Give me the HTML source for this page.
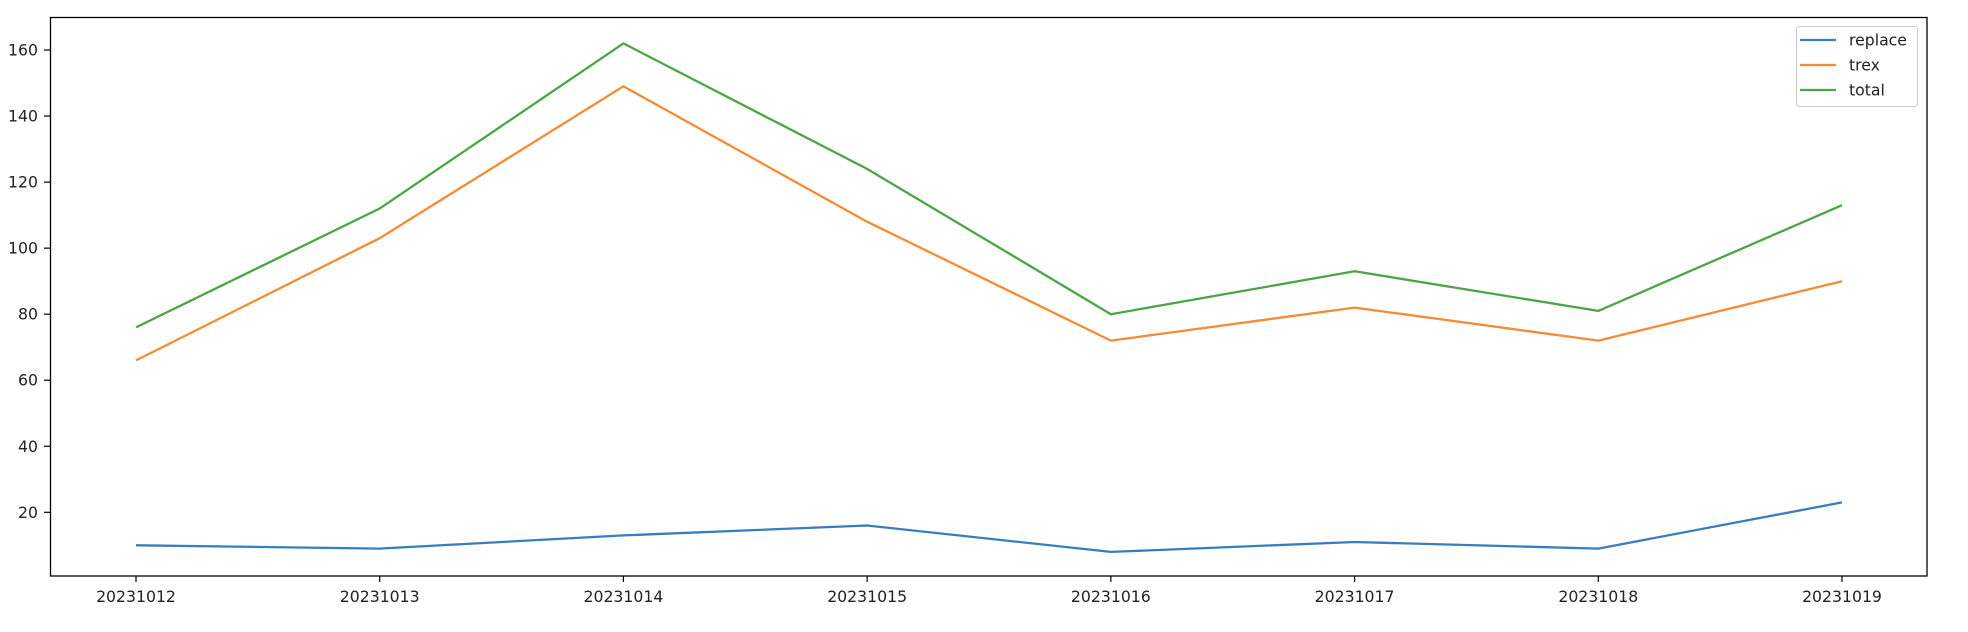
<!DOCTYPE html>
<html><head><meta charset="utf-8"><style>
body{margin:0;background:#fff;}
svg{display:block;font-family:"DejaVu Sans","Liberation Sans",sans-serif;}
</style></head><body>
<svg id="chart" width="1968" height="632" xmlns="http://www.w3.org/2000/svg">
<rect x="0" y="0" width="1968" height="632" fill="#fff"/>
<g id="plot"></g>
<rect x="50.5" y="17.5" width="1876.5" height="558.5" fill="none" stroke="#000" stroke-width="1.3"/>
<g>
<rect x="1796.5" y="26.5" width="121" height="80" rx="3" fill="#fff" fill-opacity="0.8" stroke="#ccc" stroke-width="1"/>
<line x1="1800" y1="40" x2="1836" y2="40" stroke="#3a7dbd" stroke-width="2.3"/>
<text x="1849" y="45.5" font-size="15.7" fill="#222">replace</text>
<line x1="1800" y1="65" x2="1836" y2="65" stroke="#f58b34" stroke-width="2.3"/>
<text x="1849" y="70.5" font-size="15.7" fill="#222">trex</text>
<line x1="1800" y1="90" x2="1836" y2="90" stroke="#4ca544" stroke-width="2.3"/>
<text x="1849" y="95.5" font-size="15.7" fill="#222">total</text>
</g>
</svg>
<script>
const categories=["20231012","20231013","20231014","20231015","20231016","20231017","20231018","20231019"];
const replaceValues=[10,9,13,16,8,11,9,23];
const trexValues=[66,103,149,108,72,82,72,90];
const totalValues=[76,112,162,124,80,93,81,113];
const yTicks=[20,40,60,80,100,120,140,160];
const NS="http://www.w3.org/2000/svg";
const g=document.getElementById('plot');
function xPos(i){return 136+i*(1842-136)/(categories.length-1);}
function yPos(v){return 512.3-(v-20)*3.302;}
function mk(t,a){const e=document.createElementNS(NS,t);for(const k in a)e.setAttribute(k,a[k]);g.appendChild(e);return e;}
yTicks.forEach(v=>{
  const y=yPos(v);
  const tk=mk('line',{x1:44,x2:50,y1:y,y2:y,stroke:'#000','stroke-width':1.2});
  
  
  const t=mk('text',{x:38,y:y+5.5,'font-size':15.7,'text-anchor':'end',fill:'#222'});
  t.textContent=v;
  
  
});
categories.forEach((c,i)=>{
  const x=xPos(i);
  const tk=mk('line',{x1:x,x2:x,y1:576,y2:582,stroke:'#000','stroke-width':1.2});
  
  
  const t=mk('text',{x:x,y:602,'font-size':15.7,'text-anchor':'middle',fill:'#222'});
  t.textContent=c;
  
  
});
[[replaceValues,'#3a7dbd','replace'],[trexValues,'#f58b34','trex'],[totalValues,'#4ca544','total']].forEach(([vals,col,name])=>{
  const pts=vals.map((v,i)=>xPos(i).toFixed(1)+','+yPos(v).toFixed(1)).join(' ');
  const p=mk('polyline',{points:pts,fill:'none',stroke:col,'stroke-width':2.3,'stroke-linejoin':'round'});
  
  
});
</script>
</body></html>
